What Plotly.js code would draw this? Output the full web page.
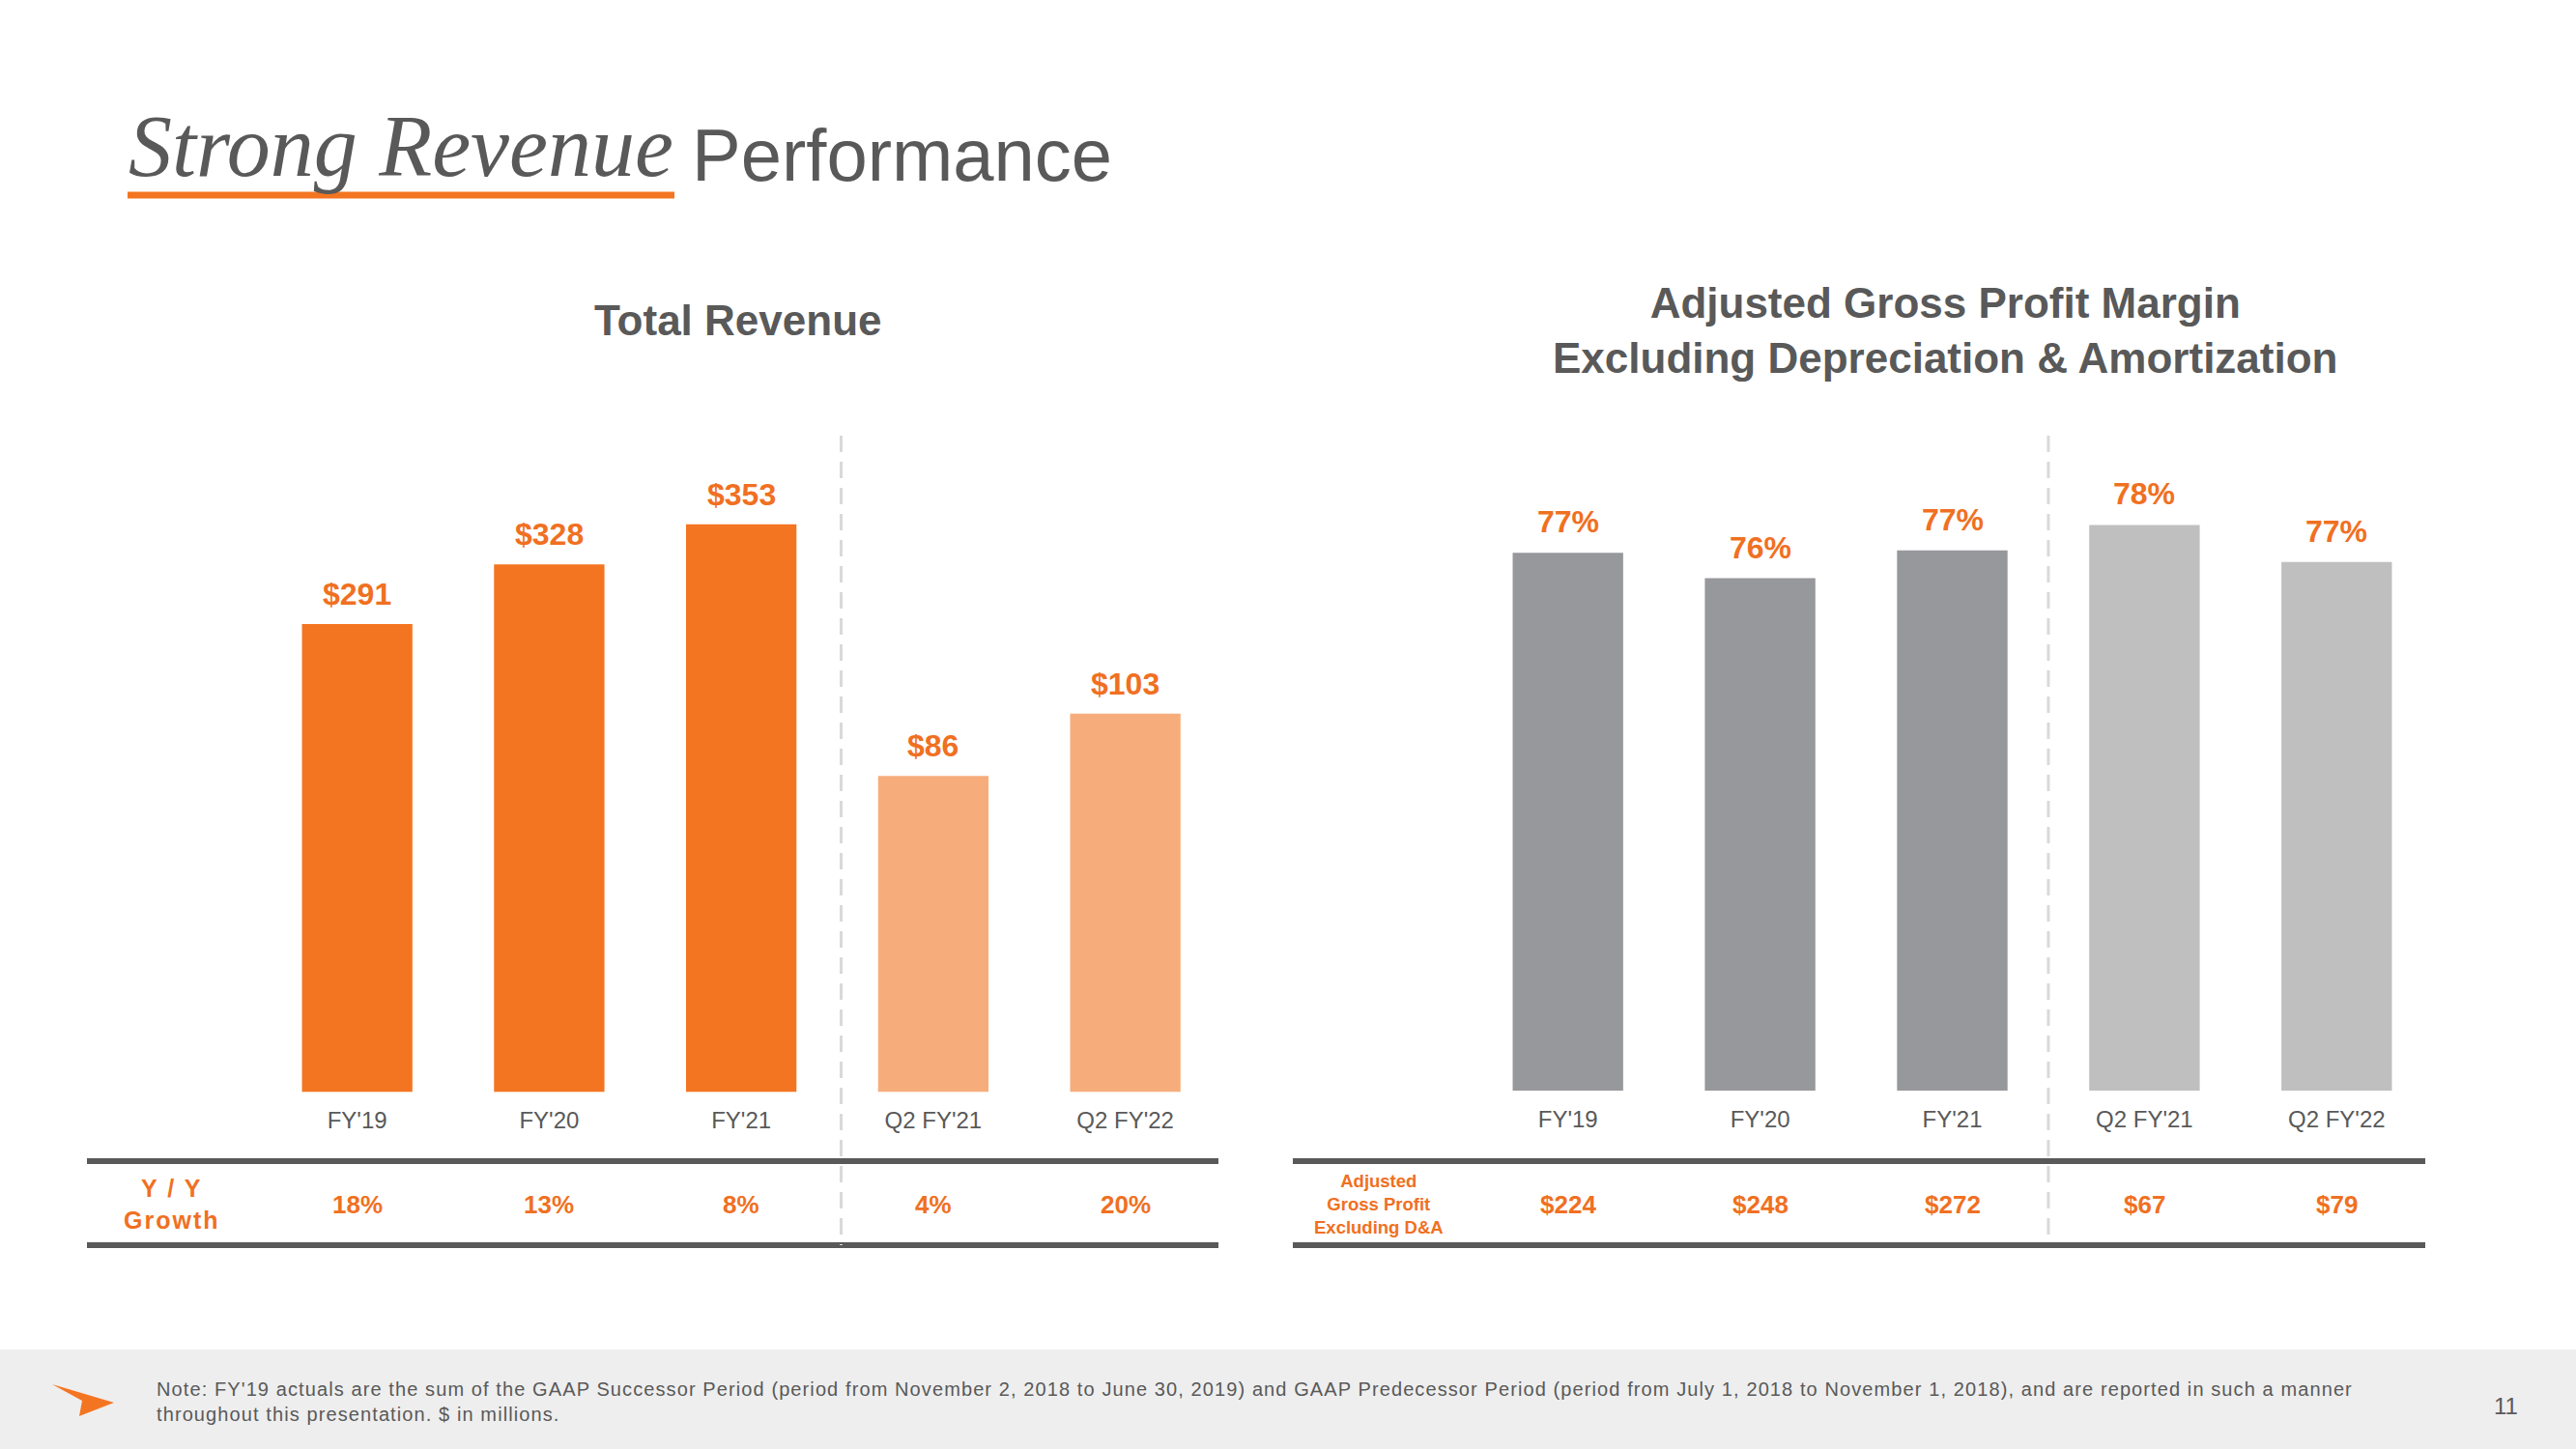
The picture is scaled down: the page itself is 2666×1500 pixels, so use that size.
<!DOCTYPE html>
<html>
<head>
<meta charset="utf-8">
<script src="https://cdn.plot.ly/plotly-3.0.1.min.js"></script>
<style>
  html, body { margin: 0; padding: 0; background: #ffffff; }
  #chart { width: 2666px; height: 1500px; }
</style>
</head>
<body>
<div id="chart"></div>
<script>
// ---------------- DATA ----------------
const categories = ["FY'19", "FY'20", "FY'21", "Q2 FY'21", "Q2 FY'22"];
const annualCategories = ["FY'19", "FY'20", "FY'21"];
const quarterCategories = ["Q2 FY'21", "Q2 FY'22"];

const revenueAnnual = [291, 328, 353];          // $ millions
const revenueQuarter = [86, 103];               // $ millions
const revenueGrowth = ["18%", "13%", "8%", "4%", "20%"];

const marginAnnual = [76.9, 75.8, 77.0];        // % (bar heights, estimated)
const marginQuarter = [78.1, 76.5];             // %
const marginLabels = ["77%", "76%", "77%", "78%", "77%"];
const adjGrossProfit = [224, 248, 272, 67, 79]; // $ millions

const pageTitleScript = "Strong Revenue";
const pageTitleRest = "Performance";
const leftTitle = "Total Revenue";
const rightTitle = "Adjusted Gross Profit Margin<br>Excluding Depreciation & Amortization";
const growthRowLabel = "Y / Y<br>Growth";
const gpRowLabel = "Adjusted<br>Gross Profit<br>Excluding D&A";
const footnote = "Note: FY'19 actuals are the sum of the GAAP Successor Period (period from November 2, 2018 to June 30, 2019) and GAAP Predecessor Period (period from July 1, 2018 to November 1, 2018), and are reported in such a manner<br>throughout this presentation. $ in millions.";
const pageNumber = "11";

// ---------------- STYLE ----------------
const W = 2666, H = 1500;
const px = x => x / W;
const py = y => 1 - y / H;
const SANS = '"Liberation Sans", Arial, sans-serif';
const GRAY_TXT = '#595959';
const ORANGE = '#F07022';
const BAR_W = 0.575;

const traces = [
  { type: 'bar', x: annualCategories, y: revenueAnnual, xaxis: 'x', yaxis: 'y',
    width: BAR_W, marker: { color: '#F47521' }, hoverinfo: 'skip' },
  { type: 'bar', x: quarterCategories, y: revenueQuarter, xaxis: 'x', yaxis: 'y2',
    width: BAR_W, marker: { color: '#F6AD7B' }, hoverinfo: 'skip' },
  { type: 'bar', x: annualCategories, y: marginAnnual, xaxis: 'x2', yaxis: 'y3',
    width: BAR_W, marker: { color: '#97989B' }, hoverinfo: 'skip' },
  { type: 'bar', x: quarterCategories, y: marginQuarter, xaxis: 'x2', yaxis: 'y3',
    width: BAR_W, marker: { color: '#BFBFBF' }, hoverinfo: 'skip' }
];

const catAxis = (domain, anchor) => ({
  domain: domain, anchor: anchor, type: 'category',
  categoryorder: 'array', categoryarray: categories, range: [-0.5, 4.5],
  showgrid: false, zeroline: false, showline: false,
  ticks: 'outside', ticklen: 8, tickcolor: 'rgba(0,0,0,0)',
  tickfont: { family: SANS, size: 24, color: GRAY_TXT }, fixedrange: true
});

const annotations = [];
const valueFont = { family: SANS, size: 32, color: ORANGE, weight: 700 };
revenueAnnual.forEach((v, i) => annotations.push({
  xref: 'x', yref: 'y', x: annualCategories[i], y: v, text: '$' + v,
  showarrow: false, yanchor: 'middle', yshift: 31, font: valueFont }));
revenueQuarter.forEach((v, i) => annotations.push({
  xref: 'x', yref: 'y2', x: quarterCategories[i], y: v, text: '$' + v,
  showarrow: false, yanchor: 'middle', yshift: 31, font: valueFont }));
marginAnnual.concat(marginQuarter).forEach((v, i) => annotations.push({
  xref: 'x2', yref: 'y3', x: categories[i], y: v, text: marginLabels[i],
  showarrow: false, yanchor: 'middle', yshift: 32, font: valueFont }));

const rowFont = { family: SANS, size: 26, color: ORANGE, weight: 700 };
revenueGrowth.forEach((t, i) => annotations.push({
  xref: 'x', yref: 'paper', x: categories[i], y: py(1247), text: t,
  showarrow: false, yanchor: 'middle', font: rowFont }));
adjGrossProfit.forEach((v, i) => annotations.push({
  xref: 'x2', yref: 'paper', x: categories[i], y: py(1247), text: '$' + v,
  showarrow: false, yanchor: 'middle', font: rowFont }));

const growthLabelIndex = annotations.length;
annotations.push(
  { xref: 'paper', yref: 'paper', x: px(177.5), y: py(1246.5), text: growthRowLabel,
    showarrow: false, xanchor: 'center', yanchor: 'middle', align: 'center',
    font: { family: SANS, size: 25, color: ORANGE, weight: 700 } },
  { xref: 'paper', yref: 'paper', x: px(1426.5), y: py(1246), text: gpRowLabel,
    showarrow: false, xanchor: 'center', yanchor: 'middle', align: 'center',
    font: { family: SANS, size: 18.5, color: ORANGE, weight: 700 } },
  { xref: 'paper', yref: 'paper', x: px(763.5), y: py(331.6), text: leftTitle,
    showarrow: false, xanchor: 'center', yanchor: 'middle',
    font: { family: SANS, size: 44, color: GRAY_TXT, weight: 700 } },
  { xref: 'paper', yref: 'paper', x: px(2013), y: py(342), text: rightTitle,
    showarrow: false, xanchor: 'center', yanchor: 'middle', align: 'center',
    font: { family: SANS, size: 44, color: GRAY_TXT, weight: 700 } },
  { xref: 'paper', yref: 'paper', x: px(131), y: py(152), text: pageTitleScript,
    showarrow: false, xanchor: 'left', yanchor: 'middle',
    font: { family: '"Liberation Serif", serif', size: 90, color: GRAY_TXT, style: 'italic' } },
  { xref: 'paper', yref: 'paper', x: px(714), y: py(160), text: pageTitleRest,
    showarrow: false, xanchor: 'left', yanchor: 'middle',
    font: { family: SANS, size: 76, color: GRAY_TXT } }
);
const footnoteIndex = annotations.length;
annotations.push(
  { xref: 'paper', yref: 'paper', x: px(160), y: py(1450.5), text: footnote,
    showarrow: false, xanchor: 'left', yanchor: 'middle', align: 'left',
    font: { family: SANS, size: 20, color: GRAY_TXT } },
  { xref: 'paper', yref: 'paper', x: px(2593), y: py(1455), text: pageNumber,
    showarrow: false, xanchor: 'center', yanchor: 'middle',
    font: { family: SANS, size: 24, color: GRAY_TXT } }
);

const DASH = { color: '#D9D9D9', width: 3, dash: '17px,10px' };
const RULE = { color: '#595959', width: 6 };
const shapes = [
  { type: 'rect', xref: 'paper', yref: 'paper', x0: 0, x1: 1, y0: 0, y1: py(1397),
    fillcolor: '#EEEEEE', line: { width: 0 }, layer: 'below' },
  { type: 'path', xref: 'paper', yref: 'paper', fillcolor: '#F47521', line: { width: 0 },
    path: `M ${px(54)} ${py(1433)} L ${px(118)} ${py(1452)} L ${px(82)} ${py(1466)} L ${px(85)} ${py(1450)} Z` },
  { type: 'line', xref: 'paper', yref: 'paper', x0: px(132), x1: px(698), y0: py(202), y1: py(202),
    line: { color: '#F47521', width: 7 } },
  { type: 'line', xref: 'paper', yref: 'paper', x0: px(90), x1: px(1261), y0: py(1202), y1: py(1202), line: RULE },
  { type: 'line', xref: 'paper', yref: 'paper', x0: px(90), x1: px(1261), y0: py(1289), y1: py(1289), line: RULE },
  { type: 'line', xref: 'paper', yref: 'paper', x0: px(1338), x1: px(2510), y0: py(1202), y1: py(1202), line: RULE },
  { type: 'line', xref: 'paper', yref: 'paper', x0: px(1338), x1: px(2510), y0: py(1289), y1: py(1289), line: RULE },
  { type: 'line', xref: 'x', yref: 'paper', x0: 2.52, x1: 2.52, y0: py(451), y1: py(1289), line: DASH },
  { type: 'line', xref: 'x2', yref: 'paper', x0: 2.5, x1: 2.5, y0: py(451), y1: py(1285), line: DASH }
];

const layout = {
  width: W, height: H,
  margin: { l: 0, r: 0, t: 0, b: 0 },
  paper_bgcolor: '#ffffff', plot_bgcolor: 'rgba(0,0,0,0)',
  showlegend: false, barmode: 'overlay',
  xaxis: catAxis([px(270.3), px(1264)], 'y'),
  yaxis: { domain: [py(1130.5), py(451)], range: [0, 408.1], visible: false, fixedrange: true },
  yaxis2: { overlaying: 'y', anchor: 'x', range: [0, 178.6], visible: false, fixedrange: true },
  xaxis2: catAxis([px(1523.25), px(2517.75)], 'y3'),
  yaxis3: { domain: [py(1129), py(451)], anchor: 'x2', range: [53.7, 81.95], visible: false, fixedrange: true },
  annotations: annotations,
  shapes: shapes
};

Plotly.newPlot('chart', traces, layout, { displayModeBar: false, staticPlot: true }).then(() => {
  const spacing = {};
  spacing[footnoteIndex] = '1.1px';
  spacing[growthLabelIndex] = '2px';
  Object.keys(spacing).forEach(idx => {
    document.querySelectorAll('g.annotation[data-index="' + idx + '"] text')
      .forEach(t => { t.style.letterSpacing = spacing[idx]; });
  });
});
</script>
</body>
</html>
